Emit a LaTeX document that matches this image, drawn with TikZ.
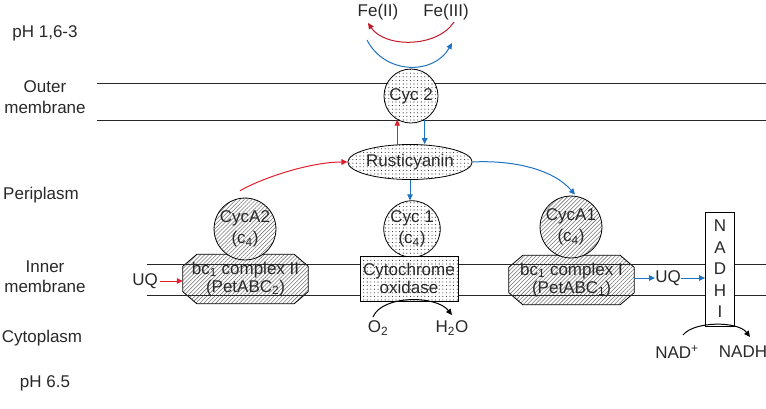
\documentclass[tikz,border=0pt]{standalone}
\usepackage{fontspec}
\setmainfont{Liberation Sans}
\usetikzlibrary{arrows.meta,patterns.meta,shapes.geometric,backgrounds}
\definecolor{ared}{RGB}{225,30,45}
\definecolor{ablue}{RGB}{30,115,195}
\definecolor{txt}{RGB}{40,40,40}
\begin{document}
\begin{tikzpicture}[x=1pt,y=-1pt,
  font=\fontsize{17}{19}\selectfont, text=txt,
  lbl/.style={align=center, inner sep=0pt},
  hatch/.style={preaction={fill=white}, pattern={Lines[angle=45,distance=2.8pt,line width=0.55pt]}, pattern color=black!55},
  dotfill/.style={preaction={fill=white}, pattern={Dots[distance=3.6pt,radius=0.55pt]}, pattern color=black!85},
  cyc/.style={circle, draw, line width=0.8pt, minimum size=53pt, inner sep=0pt, align=center, font=\fontsize{17}{21}\selectfont},
  boxtext/.style={align=center, inner sep=0pt, minimum width=125pt, minimum height=49pt, font=\fontsize{17}{18}\selectfont},
  memb/.style={line width=0.9pt, black!85},
  ra/.style={ared, line width=1pt, -{Triangle[length=6pt,width=5.5pt]}},
  ba/.style={ablue, line width=1pt, -{Triangle[length=6pt,width=5.5pt]}},
  ka/.style={black, line width=1pt, -{Triangle[length=6pt,width=5.5pt]}}
]
\useasboundingbox (0,0) rectangle (766,408);

% side labels
\node[lbl] (ph1) at (45,33) {pH 1,6-3};
\node[lbl, font=\fontsize{17}{21}\selectfont] (outer) at (45,97) {Outer\\membrane};
\node[lbl] (peri) at (41,195) {Periplasm};
\node[lbl, font=\fontsize{17}{20}\selectfont] (inner) at (45,277) {Inner\\membrane};
\node[lbl] (cyto) at (42,338) {Cytoplasm};
\node[lbl] (ph2) at (45,383) {pH 6.5};

% membrane lines
\coordinate (om1a) at (97,83);  \coordinate (om1b) at (766,83);
\coordinate (om2a) at (97,120); \coordinate (om2b) at (766,120);
\coordinate (im1a) at (147,264); \coordinate (im1b) at (766,264);
\coordinate (im2a) at (147,295); \coordinate (im2b) at (766,295);
\draw[memb] (om1a) -- (om1b);
\draw[memb] (om2a) -- (om2b);
\draw[memb] (im1a) -- (im1b);
\draw[memb] (im2a) -- (im2b);

% iron
\node[lbl] (fe2) at (378,12) {Fe(II)};
\node[lbl] (fe3) at (446,12) {Fe(III)};
\coordinate (r1) at (454,22); \coordinate (r2) at (368,23);
\coordinate (b1) at (367,40); \coordinate (b2) at (452,43);
\draw[ra, ared!85!black] (r1) .. controls (437,48) and (385,48) .. (r2);
\draw[ba] (b1) .. controls (385,75) and (434,75) .. (b2);

% proteins
\node[cyc, dotfill, minimum size=54pt] (cyc2) at (411,96) {Cyc 2};
\node[ellipse, draw, line width=0.8pt, dotfill, minimum width=110pt, minimum height=35pt, inner sep=0pt] (rust) at (410,162) {Rusticyanin};
\node[cyc, hatch] (cyca2) at (245,229) {CycA2\\(c\textsubscript{4})};
\node[cyc, dotfill] (cyc1) at (412,229) {Cyc 1\\(c\textsubscript{4})};
\node[cyc, hatch] (cyca1) at (571,227) {CycA1\\(c\textsubscript{4})};

\node[boxtext] (bc2) at (245.5,279) {bc\textsubscript{1} complex II\\(PetABC\textsubscript{2})};
\node[boxtext] (bc1) at (571.5,280) {bc\textsubscript{1} complex I\\(PetABC\textsubscript{1})};
\begin{pgfonlayer}{background}
\draw[hatch, line width=0.8pt] ([xshift=14pt]bc2.north west) -- ([xshift=-14pt]bc2.north east) -- ([yshift=-12pt]bc2.north east) -- ([yshift=12pt]bc2.south east) -- ([xshift=-14pt]bc2.south east) -- ([xshift=14pt]bc2.south west) -- ([yshift=12pt]bc2.south west) -- ([yshift=-12pt]bc2.north west) -- cycle;
\draw[hatch, line width=0.8pt] ([xshift=14pt]bc1.north west) -- ([xshift=-14pt]bc1.north east) -- ([yshift=-12pt]bc1.north east) -- ([yshift=12pt]bc1.south east) -- ([xshift=-14pt]bc1.south east) -- ([xshift=14pt]bc1.south west) -- ([yshift=12pt]bc1.south west) -- ([yshift=-12pt]bc1.north west) -- cycle;
\end{pgfonlayer}

\node[draw, line width=0.8pt, dotfill, align=center, minimum width=98pt, minimum height=45pt, inner sep=0pt, font=\fontsize{17}{18}\selectfont] (cox) at (409,278.5) {Cytochrome\\oxidase};
\node[draw, line width=0.8pt, fill=white, align=center, minimum width=29pt, minimum height=114pt, inner sep=0pt, font=\fontsize{17}{21.5}\selectfont] (ndh) at (720,269) {N\\A\\D\\H\\I};

% quinones
\node[lbl] (uql) at (145,281) {UQ};
\node[lbl] (uqr) at (668,278) {UQ};
\draw[ra] (uql.east) ++(2pt,0) coordinate (uqls) -- (uqls -| bc2.west);
\draw[ba] (bc1.east |- uqr.west) -- (uqr.west);
\draw[ba] (uqr.east) -- (uqr.east -| ndh.west);

% electron flow
\draw[ra] (cyc2.240 |- rust.north) -- (cyc2.240);
\draw[ba] (cyc2.300) -- (cyc2.300 |- rust.north);
\draw[ba] (rust.south) -- (rust.south |- cyc1.north);
\draw[ra] ([shift={(-5pt,7pt)}]cyca2.north) .. controls (262,178) and (310,162) .. (rust.west);
\draw[ba] (rust.east) .. controls (510,160) and (552,168) .. ([shift={(4pt,1pt)}]cyca1.north);

% cytoplasmic reactions
\node[lbl] (o2) at (378,328) {O\textsubscript{2}};
\node[lbl] (h2o) at (452,328) {H\textsubscript{2}O};
\coordinate (os) at (373,317); \coordinate (oe) at (452,315);
\draw[ka] (os) .. controls (382,295) and (436,295) .. (oe);
\node[lbl] (nad) at (677,352) {NAD\textsuperscript{+}};
\node[lbl] (nadh) at (743,352) {NADH};
\coordinate (ns) at (683,335); \coordinate (ne) at (750,337);
\draw[ka] (ns) .. controls (694,321) and (738,321) .. (ne);
\end{tikzpicture}
\end{document}
